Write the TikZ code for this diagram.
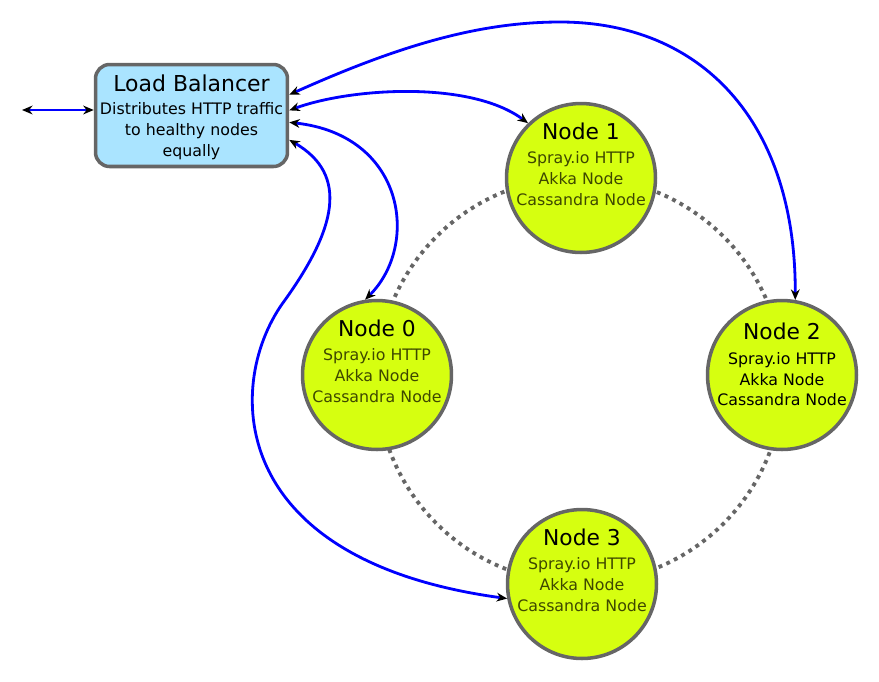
\documentclass[tikz,border=0pt]{standalone}
\usepackage{fontspec}
\setmainfont{DejaVu Sans}
\usetikzlibrary{arrows.meta}
\definecolor{lbblue}{RGB}{170,228,255}
\definecolor{nodelime}{RGB}{214,255,16}
\definecolor{rimgray}{RGB}{102,102,102}
\definecolor{olivetext}{RGB}{62,72,0}
% text of one cluster node: number, colour of the lines, lift
\newcommand{\servertext}[3]{\raisebox{#3}[0pt][0pt]{\begin{tabular}{@{}c@{}}{\fontsize{12.4}{14}\selectfont Node #1}\\[2.3pt]
  \color{#2}Spray.io HTTP\\ \color{#2}Akka Node\\ \color{#2}Cassandra Node\end{tabular}}}
\begin{document}
\begin{tikzpicture}[x=0.02cm, y=-0.02cm,
    every node/.style={font=\fontsize{9}{11.8}\selectfont},
    balancer/.style={draw=rimgray, line width=2pt, fill=lbblue, rounded corners=8pt, minimum width=3.84cm, minimum height=2.04cm, inner sep=0pt},
    server/.style={draw=rimgray, line width=2pt, fill=nodelime, circle, minimum size=2.98cm, inner sep=0pt},
    link/.style={blue, line width=1.6pt, {Stealth[black,length=6pt,width=5pt]}-{Stealth[black,length=6pt,width=5pt]}},
    ring/.style={rimgray, line width=2.2pt, dash pattern=on 2.2pt off 2.6pt}]
        \useasboundingbox (0,0) rectangle (879,681);

        % Dotted ring through the cluster
        \draw[ring] (580,380) circle[radius=4.06cm];

        % Load balancer box
        \node[balancer] (lb) at (191.5,115.5) {\raisebox{-4pt}[0pt][0pt]{\begin{tabular}{@{}c@{}}{\fontsize{12.5}{15}\selectfont Load Balancer}\\[1.6pt]
            Distributes HTTP traffic\\ to healthy nodes\\ equally\end{tabular}}};
        \coordinate (ext) at (22,110);

        % Cluster nodes around the ring
        \node[server] (n1) at (581,178) {\servertext{1}{olivetext}{4pt}};   % Top
        \node[server] (n0) at (377,375) {\servertext{0}{olivetext}{4pt}};   % Left
        \node[server] (n2) at (782,375) {\servertext{2}{black}{2pt}};       % Right
        \node[server] (n3) at (582,584) {\servertext{3}{olivetext}{4pt}};   % Bottom

        % Traffic in and out of the balancer
        \draw[link] (ext) -- (ext -| lb.west);
        \draw[link] (lb.12) .. controls (400,45) and (480,22) .. (560,22) .. controls (700,22) and (796,120) .. (n2.80);
        \draw[link] (lb.3) .. controls (350,88) and (470,80) .. (n1.134);
        \draw[link] (lb.-4) .. controls (405,135) and (420,245) .. (n0.99);
        \draw[link] (lb.-14) .. controls (350,175) and (335,230) .. (285,300) .. controls (225,380) and (222,560) .. (n3.191);
    \end{tikzpicture}
\end{document}
